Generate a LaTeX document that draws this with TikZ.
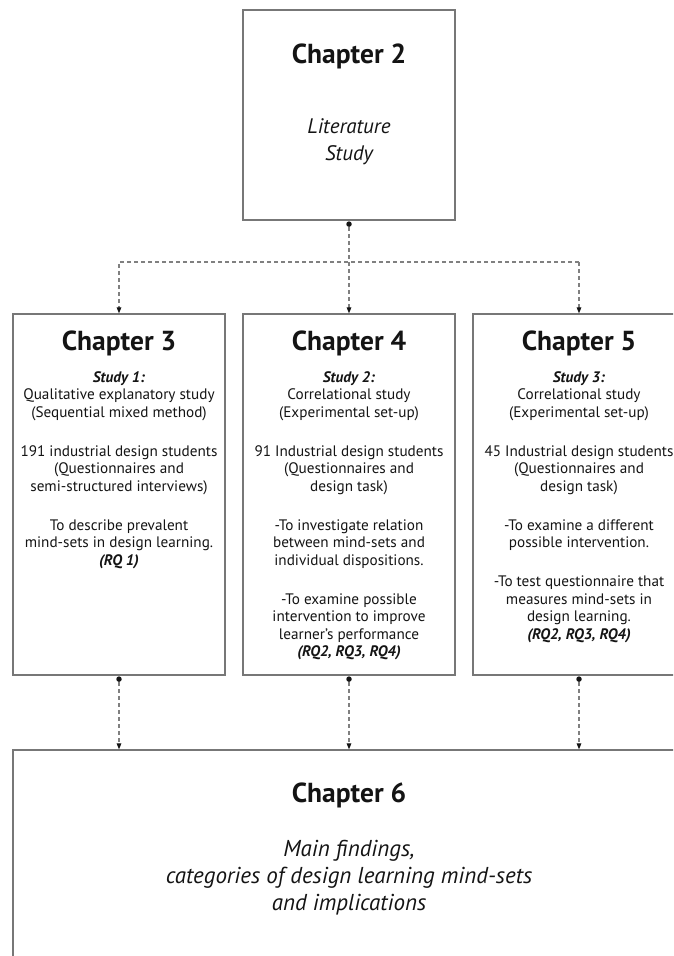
\documentclass[tikz,border=0pt]{standalone}
\usepackage{fontspec}
\setmainfont{PT Sans}
\usetikzlibrary{arrows.meta}
\definecolor{frame}{HTML}{777777}
\definecolor{ink}{HTML}{141414}
\definecolor{dashgray}{HTML}{808080}
\tikzset{
  chapbox/.style={draw=frame, line width=1.2pt, inner sep=0pt},
  chaptitle/.style={font=\fontsize{27.5}{30}\selectfont\bfseries, text=ink, inner sep=0pt, anchor=base},
  body/.style={font=\fontsize{15.2}{17.5}\selectfont, text=ink, align=center, inner sep=0pt, anchor=base},
  lead/.style={font=\fontsize{21}{27}\selectfont\itshape, text=ink, align=center, inner sep=0pt, anchor=base},
  leadwide/.style={lead, font=\fontsize{23}{27}\selectfont\itshape},
  link/.style={draw=dashgray, line width=1.1pt, dash pattern=on 4pt off 3pt},
  tip/.style={-{Stealth[length=6pt,width=4.5pt,inset=0pt,color=ink]}},
  joint/.style={circle, fill=ink, minimum size=5.5pt, inner sep=0pt},
}
\newcommand{\bi}[1]{\textbf{\textit{#1}}}
\begin{document}
\begin{tikzpicture}[x=1pt, y=-1pt]
  \useasboundingbox (0,0) rectangle (673,956);
  \clip (0,0) rectangle (673,956);

  % literature chapter (multi-line texts are placed by their last baseline)
  \node[chapbox, minimum width=212pt, minimum height=210pt] (ch2) at (349,115) {};
  \node[chaptitle] (t2) at (349,63) {Chapter 2};
  \node[lead] (l2) at (349,160) {Literature\\Study};

  % three empirical chapters
  \node[chapbox, minimum width=212pt, minimum height=361pt] (ch3) at (119,494.5) {};
  \node[chapbox, minimum width=212pt, minimum height=361pt] (ch4) at (349,494.5) {};
  \node[chapbox, minimum width=212pt, minimum height=361pt] (ch5) at (579,494.5) {};

  \node[chaptitle] (t3) at (119,350) {Chapter 3};
  \node[chaptitle] (t4) at (349,350) {Chapter 4};
  \node[chaptitle] (t5) at (579,350) {Chapter 5};

  \node[body] (b3) at (119,565) {\bi{Study 1:}\\Qualitative explanatory study\\(Sequential mixed method)\\[21.5pt]
    191 industrial design students\\(Questionnaires and\\semi-structured interviews)\\[21.5pt]
    To describe prevalent\\mind-sets in design learning.\\\bi{(RQ 1)}};
  \node[body] (b4) at (349,656.5) {\bi{Study 2:}\\Correlational study\\(Experimental set-up)\\[21.5pt]
    91 Industrial design students\\(Questionnaires and\\design task)\\[21.5pt]
    -To investigate relation\\between mind-sets and\\individual dispositions.\\[21.5pt]
    -To examine possible\\intervention to improve\\learner's performance\\\bi{(RQ2, RQ3, RQ4)}};
  \node[body] (b5) at (579,639) {\bi{Study 3:}\\Correlational study\\(Experimental set-up)\\[21.5pt]
    45 Industrial design students\\(Questionnaires and\\design task)\\[21.5pt]
    -To examine a different\\possible intervention.\\[21.5pt]
    -To test questionnaire that\\measures mind-sets in\\design learning.\\\bi{(RQ2, RQ3, RQ4)}};

  % concluding chapter
  \node[chapbox, minimum width=672pt, minimum height=260pt] (ch6) at (349,880) {};
  \node[chaptitle] (t6) at (349,802) {Chapter 6};
  \node[leadwide] (l6) at (349,910) {Main findings,\\categories of design learning mind-sets\\and implications};

  % connectors
  \node[joint] (j2) at ([yshift=-3.5pt]ch2.south) {};
  \node[joint] (j3) at ([yshift=-3.5pt]ch3.south) {};
  \node[joint] (j4) at ([yshift=-3.5pt]ch4.south) {};
  \node[joint] (j5) at ([yshift=-3.5pt]ch5.south) {};
  \coordinate (fork) at (349,262);

  \draw[link, tip] (j2) -- (ch4.north);
  \draw[link, tip] (ch5.north |- fork) -- (ch3.north |- fork) -- (ch3.north);
  \draw[link, tip] (ch5.north |- fork) -- (ch5.north);

  \draw[link, tip] (j3) -- (j3 |- ch6.north);
  \draw[link, tip] (j4) -- (j4 |- ch6.north);
  \draw[link, tip] (j5) -- (j5 |- ch6.north);
\end{tikzpicture}
\end{document}
